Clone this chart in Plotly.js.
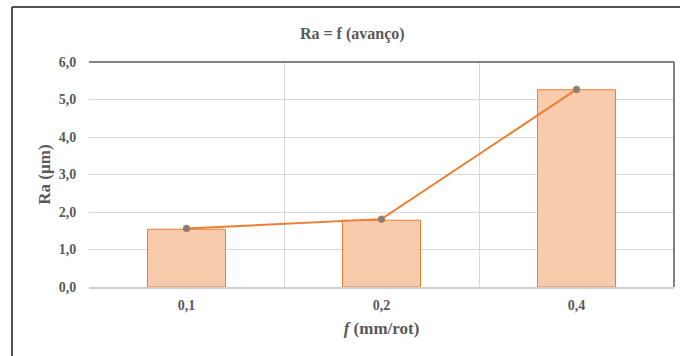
<!DOCTYPE html>
<html>
<head>
<meta charset="utf-8">
<script src="https://cdn.plot.ly/plotly-3.0.1.min.js"></script>
<style>
html,body{margin:0;padding:0;background:#fff;}
#chart{width:680px;height:356px;}
</style>
</head>
<body>
<div id="chart"></div>
<script>
const categories = ['0,1', '0,2', '0,4'];
const barValues = [1.54, 1.78, 5.26];
const lineValues = [1.56, 1.81, 5.27];
const yTicks = [0, 1, 2, 3, 4, 5, 6];
const yTickText = ['0,0', '1,0', '2,0', '3,0', '4,0', '5,0', '6,0'];

const xPos = categories.map((c, i) => i);

const font = 'Liberation Serif, Times New Roman, serif';

const traces = [
  {
    type: 'bar',
    x: xPos,
    y: barValues,
    width: 0.4,
    marker: {color: '#F8CBAD', line: {color: '#ED7D31', width: 1}},
    hoverinfo: 'skip'
  },
  {
    type: 'scatter',
    mode: 'lines+markers',
    x: xPos,
    y: lineValues,
    line: {color: '#ED7D31', width: 2},
    marker: {color: '#7F7F7F', size: 7, line: {color: '#ED7D31', width: 0.5}},
    hoverinfo: 'skip'
  }
];

const layout = {
  width: 680,
  height: 356,
  margin: {l: 89, r: 6, t: 62, b: 69, pad: 0},
  paper_bgcolor: '#ffffff',
  plot_bgcolor: '#ffffff',
  showlegend: false,
  title: {
    text: '<b>Ra = f (avanço)</b>',
    font: {family: font, size: 16, color: '#595959'},
    x: 0.518, xanchor: 'center',
    y: 0.905, yanchor: 'middle'
  },
  xaxis: {
    type: 'linear',
    range: [-0.5, 2.5],
    tickvals: xPos,
    ticktext: categories.map(c => '<b>' + c + '</b>'),
    tickfont: {family: font, size: 14, color: '#595959'},
    showgrid: false,
    zeroline: false,
    showline: true,
    linecolor: '#d0d0d0',
    linewidth: 1.5,
    ticks: 'outside',
    ticklen: 5,
    tickcolor: 'rgba(0,0,0,0)',
    minor: {tickvals: [-0.5, 0.5, 1.5], showgrid: true, gridcolor: '#d9d9d9', gridwidth: 1, ticks: ''},
    title: {
      text: '<b><i>f</i> (mm/rot)</b>',
      font: {family: font, size: 17, color: '#595959'},
      standoff: 10
    },
    fixedrange: true
  },
  yaxis: {
    range: [0, 6],
    tickvals: yTicks,
    ticktext: yTickText.map(t => '<b>' + t + '</b>'),
    tickfont: {family: font, size: 14, color: '#595959'},
    showgrid: true,
    gridcolor: '#d9d9d9',
    gridwidth: 1,
    zeroline: false,
    showline: false,
    ticks: 'outside',
    ticklen: 9,
    tickcolor: 'rgba(0,0,0,0)',
    title: {
      text: '<b>Ra (µm)</b>',
      font: {family: font, size: 17, color: '#595959'},
      standoff: 3
    },
    fixedrange: true
  },
  shapes: [
    {type: 'line', xref: 'paper', yref: 'paper', x0: 0, x1: 1, y0: 1, y1: 1, line: {color: '#595959', width: 1.5}},
    {type: 'line', xref: 'paper', yref: 'paper', x0: 1, x1: 1, y0: 0, y1: 1, line: {color: '#595959', width: 1.5}},
    {type: 'line', xref: 'paper', yref: 'paper', x0: -0.1316, x1: 1.1, y0: 1.244, y1: 1.244, line: {color: '#1a1a1a', width: 1.5}},
    {type: 'line', xref: 'paper', yref: 'paper', x0: -0.1316, x1: -0.1316, y0: -0.4, y1: 1.244, line: {color: '#1a1a1a', width: 1.5}}
  ]
};

Plotly.newPlot('chart', traces, layout, {displayModeBar: false, staticPlot: true});
</script>
</body>
</html>
